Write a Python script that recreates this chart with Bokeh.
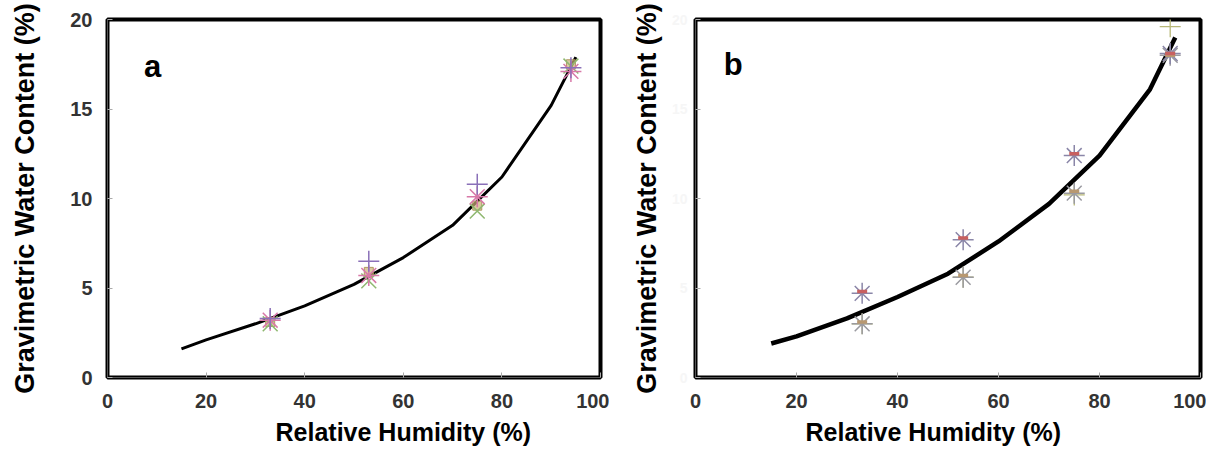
from bokeh.plotting import figure
from bokeh.layouts import row
from bokeh.models import Label, FixedTicker, Range1d, Title
from bokeh.embed import file_html
from bokeh.resources import INLINE

# ---------------- data ----------------
rh_points = [33, 53, 75, 94]

# panel a: fitted curve
a_curve_x = [15, 20, 30, 40, 50, 60, 70, 80, 90, 95]
a_curve_y = [1.6, 2.1, 3.0, 4.0, 5.2, 6.7, 8.5, 11.2, 15.2, 17.9]
# panel a: replicate series
a_s1 = [3.3, 6.5, 10.8, 17.3]
a_s2 = [3.2, 5.7, 10.1, 17.1]
a_s3 = [3.0, 5.4, 9.3, 17.4]
a_s4 = [3.1, 5.9, 9.6, 17.5]

# panel b: fitted curve
b_curve_x = [15, 20, 30, 40, 50, 60, 70, 80, 90, 95]
b_curve_y = [1.9, 2.3, 3.3, 4.5, 5.8, 7.6, 9.7, 12.4, 16.1, 19.0]
# panel b: replicate series
b_s1 = [4.7, 7.7, 12.4, 18.1]
b_s2 = [4.8, 7.8, 12.5, 18.1]
b_s3 = [3.0, 5.6, 10.3, 18.0]
b_s4 = [3.1, 5.7, 10.4, 18.0]
b_s5 = [3.0, 5.6, 10.2, 19.6]

x_ticks = [0, 20, 40, 60, 80, 100]
y_ticks = [0, 5, 10, 15, 20]

x_title = "Relative Humidity (%)"
y_title = "Gravimetric Water Content (%)"

FONT = "Liberation Sans"


def style(p, ylabel_color, ylabel_size, ylabel_standoff, title_standoff, xt_offset):
    p.grid.visible = False
    p.outline_line_color = "black"
    p.outline_line_width = 4
    for ax in (p.xaxis[0], p.yaxis[0]):
        ax.axis_line_color = "#555555"
        ax.axis_line_width = 1
        ax.major_tick_in = 5
        ax.major_tick_out = 0
        ax.major_tick_line_color = "#aaaaaa"
        ax.minor_tick_line_color = None
        ax.major_label_text_font = FONT
        ax.major_label_text_font_style = "bold"
        ax.major_label_text_font_size = "20px"
        ax.major_label_text_color = "#333333"
    p.xaxis[0].ticker = FixedTicker(ticks=x_ticks)
    p.yaxis[0].ticker = FixedTicker(ticks=y_ticks)
    p.xaxis[0].major_label_standoff = 16
    # blank spacer label pushes the title below a little further down
    p.xaxis[0].axis_label = " "
    p.xaxis[0].axis_label_text_font_size = "2px"
    p.xaxis[0].axis_label_standoff = 0
    p.yaxis[0].major_label_standoff = ylabel_standoff
    p.yaxis[0].major_label_text_color = ylabel_color
    p.yaxis[0].major_label_text_font_size = ylabel_size
    p.yaxis[0].axis_label = y_title
    p.yaxis[0].axis_label_text_font = FONT
    p.yaxis[0].axis_label_text_font_style = "bold"
    p.yaxis[0].axis_label_text_font_size = "27px"
    p.yaxis[0].axis_label_text_color = "black"
    p.yaxis[0].axis_label_standoff = title_standoff
    p.add_layout(Title(text=x_title, align="left", offset=xt_offset,
                       text_font=FONT, text_font_style="bold", text_font_size="25px",
                       text_color="black", standoff=0), "below")


# ---------------- panel a ----------------
pa = figure(width=609, height=446, output_backend="svg", toolbar_location=None,
            x_range=Range1d(0, 100), y_range=Range1d(0, 20),
            min_border_left=107, min_border_right=9, min_border_top=15,
            min_border_bottom=69)
style(pa, "#333333", "20px", 15, 27, 168)

pa.line(a_curve_x, a_curve_y, line_color="black", line_width=3)
pa.scatter(rh_points, a_s4, marker="square", size=9, fill_color="#c8b078",
           fill_alpha=0.7, line_color="#b09860")
pa.scatter(rh_points, a_s3, marker="x", size=21, line_color="#8fb870", line_width=1.5)
pa.scatter(rh_points, a_s2, marker="asterisk", size=21, line_color="#d878a8", line_width=1.5)
pa.scatter(rh_points, a_s1, marker="cross", size=21, line_color="#8a70b8", line_width=1.5)

pa.add_layout(Label(x=7.4, y=17.4, text="a", text_font=FONT, text_font_style="bold",
                    text_font_size="31px", text_align="left", text_baseline="alphabetic",
                    text_color="black"))

# ---------------- panel b ----------------
pb = figure(width=597, height=446, output_backend="svg", toolbar_location=None,
            x_range=Range1d(0, 100), y_range=Range1d(0, 20),
            min_border_left=86, min_border_right=6, min_border_top=19,
            min_border_bottom=69)
style(pb, "#f6f6f6", "14px", 8, 7, 110)

pb.line(b_curve_x, b_curve_y, line_color="black", line_width=4.5)
pb.scatter(rh_points, b_s5, marker="cross", size=21, line_color="#b8b878", line_width=1.3)
pb.scatter(rh_points, b_s3, marker="asterisk", size=21, line_color="#9a9aa0", line_width=1.5)
pb.scatter(rh_points, b_s1, marker="asterisk", size=21, line_color="#8a86a8", line_width=1.5)
pb.scatter(rh_points, b_s4, marker="dash", size=10, line_color="#b89870", line_width=3.5)
pb.scatter(rh_points, b_s2, marker="dash", size=10, line_color="#c86060", line_width=3.5)

pb.add_layout(Label(x=5.6, y=17.5, text="b", text_font=FONT, text_font_style="bold",
                    text_font_size="31px", text_align="left", text_baseline="alphabetic",
                    text_color="black"))

layout = row(pa, pb)
open("out.html", "w").write(file_html(layout, INLINE))
